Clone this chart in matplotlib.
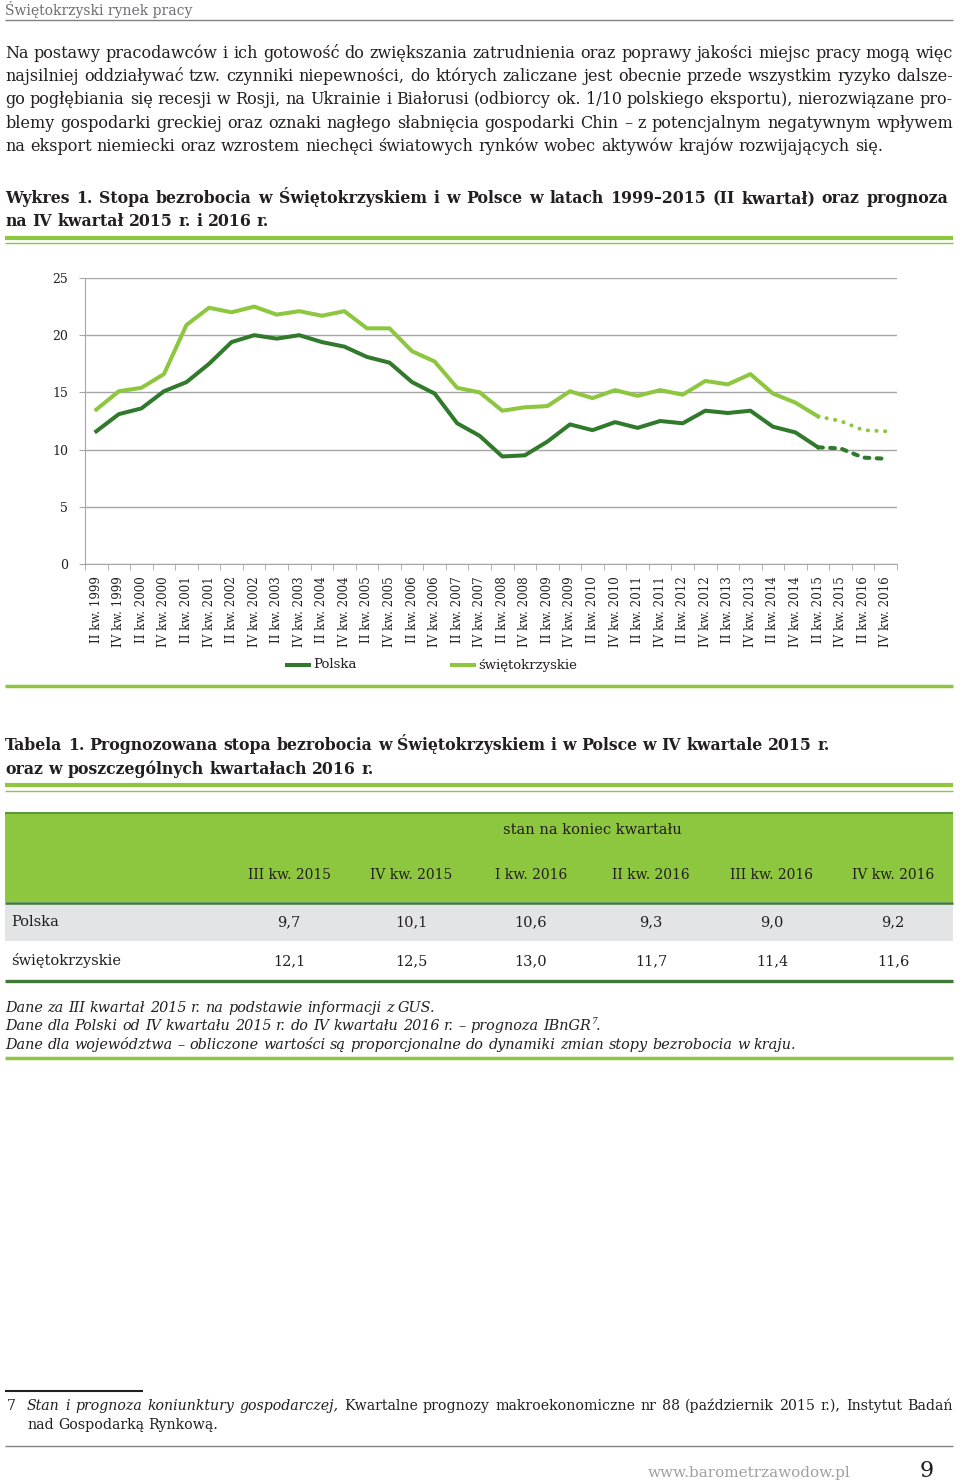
import numpy as np
import matplotlib.pyplot as plt

# dane do wykresu: stopa bezrobocia (%)
years = list(range(1999, 2017))
labels = []
for y in years:
    labels.append('II kw. %d' % y)
    labels.append('IV kw. %d' % y)

polska = [11.6, 13.1, 13.6, 15.1, 15.9, 17.5, 19.4, 20.0, 19.7, 20.0,
          19.4, 19.0, 18.1, 17.6, 15.9, 14.9, 12.3, 11.2, 9.4, 9.5,
          10.7, 12.2, 11.7, 12.4, 11.9, 12.5, 12.3, 13.4, 13.2, 13.4,
          12.0, 11.5, 10.2, 10.1, 9.3, 9.2]
swiet = [13.5, 15.1, 15.4, 16.6, 20.9, 22.4, 22.0, 22.5, 21.8, 22.1,
         21.7, 22.1, 20.6, 20.6, 18.6, 17.7, 15.4, 15.0, 13.4, 13.7,
         13.8, 15.1, 14.5, 15.2, 14.7, 15.2, 14.8, 16.0, 15.7, 16.6,
         14.9, 14.1, 12.9, 12.5, 11.7, 11.6]
n_fact = 33  # ostatni punkt rzeczywisty: II kw. 2015

# tabela
tab_cols = ['III kw. 2015', 'IV kw. 2015', 'I kw. 2016', 'II kw. 2016', 'III kw. 2016', 'IV kw. 2016']
tab_rows = ['Polska', 'świętokrzyskie']
tab_pl = ['9,7', '10,1', '10,6', '9,3', '9,0', '9,2']
tab_sw = ['12,1', '12,5', '13,0', '11,7', '11,4', '11,6']

DARK = '#317a2c'
LIGHT = '#8dc63f'
GRAY = '#a6a6a6'
TXT = '#231f20'
SERIF = 'DejaVu Serif'

W, H = 960, 1483
fig = plt.figure(figsize=(W / 100, H / 100), dpi=100)
ax0 = fig.add_axes([0, 0, 1, 1])
ax0.set_xlim(0, W)
ax0.set_ylim(H, 0)
ax0.axis('off')
r = fig.canvas.get_renderer()


def width(s, **kw):
    t = ax0.text(0, 0, s, **kw)
    w = t.get_window_extent(r).width
    t.remove()
    return w


def put_line(y, words, x0=5, x1=953, justify=True, size=10.5, family=SERIF, color=TXT, weight='normal'):
    # words: list of strings or (string, style) tuples
    items = [(w, 'normal') if isinstance(w, str) else w for w in words]
    kw = dict(fontsize=size, family=family, color=color, weight=weight)
    ws = [width(w, style=st, **kw) for w, st in items]
    sp = width('x x', **kw) - width('xx', **kw)
    gap = (x1 - x0 - sum(ws)) / (len(ws) - 1) if justify else sp
    x = x0
    for (w, st), wd in zip(items, ws):
        ax0.text(x, y, w, va='baseline', ha='left', style=st, **kw)
        x += wd + gap
    return x - gap


def hline(y, x0=5, x1=953, color=GRAY, lw=1.0):
    ax0.plot([x0, x1], [y, y], color=color, lw=lw, solid_capstyle='butt')


# naglowek strony
ax0.text(5, 15, 'Świętokrzyski rynek pracy', fontsize=10, family=SERIF, color='#6d6e71', va='baseline')
hline(20, color='#808080', lw=1.0)

body = [
    'Na postawy pracodawców i ich gotowość do zwiększania zatrudnienia oraz poprawy jakości miejsc pracy mogą więc',
    'najsilniej oddziaływać tzw. czynniki niepewności, do których zaliczane jest obecnie przede wszystkim ryzyko dalsze-',
    'go pogłębiania się recesji w Rosji, na Ukrainie i Białorusi (odbiorcy ok. 1/10 polskiego eksportu), nierozwiązane pro-',
    'blemy gospodarki greckiej oraz oznaki nagłego słabnięcia gospodarki Chin – z potencjalnym negatywnym wpływem',
    'na eksport niemiecki oraz wzrostem niechęci światowych rynków wobec aktywów krajów rozwijających się.',
]
for i, ln in enumerate(body):
    put_line(58 + i * 23.2, ln.split(), justify=(i < len(body) - 1), size=11.5)

put_line(203, 'Wykres 1. Stopa bezrobocia w Świętokrzyskiem i w Polsce w latach 1999–2015 (II kwartał) oraz prognoza'.split(),
         x1=948, size=11.3, weight='bold')
put_line(226, 'na IV kwartał 2015 r. i 2016 r.'.split(), justify=False, size=11.3, weight='bold')
hline(237.5, color=LIGHT, lw=3.0)
hline(243, color=LIGHT, lw=1.0)

# wykres
ax = fig.add_axes([85 / W, 1 - 564 / H, (897 - 85) / W, (564 - 278) / H])
x = np.arange(len(labels))
ax.plot(x[:n_fact], polska[:n_fact], color=DARK, lw=2.9, solid_joinstyle='round', label='Polska', zorder=3)
ax.plot(x[:n_fact], swiet[:n_fact], color=LIGHT, lw=2.9, solid_joinstyle='round', label='świętokrzyskie', zorder=3)
ax.plot(x[n_fact - 1:], polska[n_fact - 1:], color=DARK, lw=2.9, linestyle=(0, (1.2, 1.8)),
        dash_capstyle='round', zorder=3)
ax.plot(x[n_fact - 1:], swiet[n_fact - 1:], color=LIGHT, lw=2.9, linestyle=(0, (0.05, 2.1)),
        dash_capstyle='round', zorder=3)
ax.set_xlim(-0.5, len(labels) - 0.5)
ax.set_ylim(0, 25)
ax.set_yticks(range(0, 26, 5))
ax.set_xticks(x)
ax.set_xticklabels(labels, rotation=90, fontsize=8.6, family=SERIF, color=TXT)
ax.set_xticks(np.arange(-0.5, len(labels)), minor=True)
ax.tick_params(axis='x', which='major', length=0, pad=9)
ax.tick_params(axis='x', which='minor', length=4, color=GRAY, direction='out')
ax.tick_params(axis='y', length=4, color=GRAY, pad=8, labelsize=9, labelcolor=TXT)
for t in ax.get_yticklabels():
    t.set_family(SERIF)
ax.grid(axis='y', color=GRAY, lw=1.0)
ax.set_axisbelow(True)
for s in ['top', 'right']:
    ax.spines[s].set_visible(False)
ax.spines['left'].set_color(GRAY)
ax.spines['bottom'].set_color(GRAY)
ax.patch.set_alpha(0)

# legenda
ax0.plot([285, 311], [665, 665], color=DARK, lw=2.9, solid_capstyle='butt')
ax0.text(313, 665, 'Polska', fontsize=9.5, family=SERIF, color=TXT, va='center')
ax0.plot([450, 476], [665, 665], color=LIGHT, lw=2.9, solid_capstyle='butt')
ax0.text(478, 665, 'świętokrzyskie', fontsize=9.5, family=SERIF, color=TXT, va='center')
hline(686, color=LIGHT, lw=2.5)

# tabela
put_line(750, 'Tabela 1. Prognozowana stopa bezrobocia w Świętokrzyskiem i w Polsce w IV kwartale 2015 r.'.split(),
         justify=False, size=11.3, weight='bold')
put_line(774, 'oraz w poszczególnych kwartałach 2016 r.'.split(), justify=False, size=11.3, weight='bold')
hline(784.5, color=LIGHT, lw=3.0)
hline(791, color=LIGHT, lw=1.0)

ax0.add_patch(plt.Rectangle((5, 812), 948, 90, facecolor=LIGHT, edgecolor='none'))
ax0.add_patch(plt.Rectangle((5, 903), 948, 38, facecolor='#e3e4e5', edgecolor='none'))
hline(812.5, color='#5a9a3a', lw=1.5)
hline(902.5, color='#3d7a35', lw=1.8)
hline(981, color='#3d7a35', lw=2.4)

col_x = [289, 411, 531, 651, 772, 893]
ax0.text(592, 830, 'stan na koniec kwartału', fontsize=10.5, family=SERIF, color=TXT, ha='center', va='center')
for cx, c in zip(col_x, tab_cols):
    ax0.text(cx, 875, c, fontsize=10, family=SERIF, color=TXT, ha='center', va='center')
for ry, name, vals in [(922, tab_rows[0], tab_pl), (961, tab_rows[1], tab_sw)]:
    ax0.text(11, ry, name, fontsize=10.5, family=SERIF, color=TXT, va='center')
    for cx, v in zip(col_x, vals):
        ax0.text(cx, ry, v, fontsize=10.5, family=SERIF, color=TXT, ha='center', va='center')

notes_kw = dict(justify=False, size=10.4)
put_line(1012, [(w, 'italic') for w in 'Dane za III kwartał 2015 r. na podstawie informacji z GUS.'.split()], **notes_kw)
xe = put_line(1030, [(w, 'italic') for w in 'Dane dla Polski od IV kwartału 2015 r. do IV kwartału 2016 r. – prognoza IBnGR'.split()], **notes_kw)
ax0.text(xe + 0.5, 1024, '7', fontsize=6.5, family=SERIF, style='italic', color=TXT, va='baseline')
ax0.text(xe + 5, 1030, '.', fontsize=10.4, family=SERIF, style='italic', color=TXT, va='baseline')
put_line(1049, [(w, 'italic') for w in 'Dane dla województwa – obliczone wartości są proporcjonalne do dynamiki zmian stopy bezrobocia w kraju.'.split()], **notes_kw)
hline(1057.5, color=LIGHT, lw=2.5)

# przypis
hline(1391, x0=5, x1=143, color=TXT, lw=1.5)
ax0.text(7, 1410, '7', fontsize=10.2, family=SERIF, color=TXT, va='baseline')
fn = [(w, 'italic') for w in 'Stan i prognoza koniunktury gospodarczej,'.split()] + \
     'Kwartalne prognozy makroekonomiczne nr 88 (październik 2015 r.), Instytut Badań'.split()
put_line(1410, fn, x0=27, x1=953, size=10.2)
put_line(1429, 'nad Gospodarką Rynkową.'.split(), x0=27, justify=False, size=10.2)
hline(1446, color='#808080', lw=1.0)

ax0.text(851, 1473, 'www.barometrzawodow.pl', fontsize=11, family=SERIF, color='#a0a0a0', ha='right', va='center')
ax0.text(927, 1471, '9', fontsize=16, family=SERIF, color=TXT, ha='center', va='center')

fig.savefig('out.png', dpi=100)
